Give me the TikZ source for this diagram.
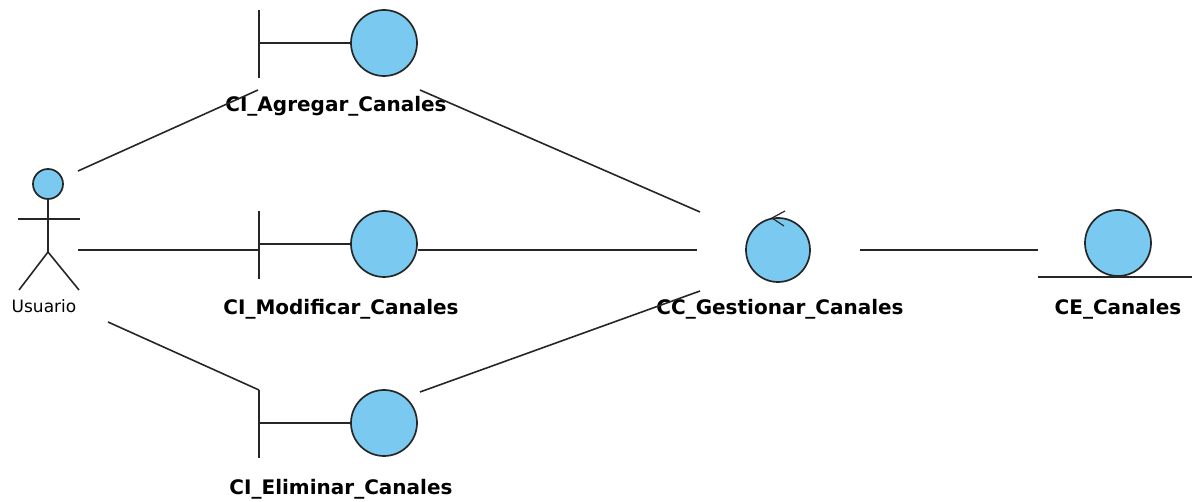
\documentclass[tikz,border=0pt]{standalone}
\usepackage{fontspec}
\setmainfont{DejaVu Sans}
\definecolor{vpblue}{RGB}{122,201,240}
\tikzset{ball/.style={circle, draw=black!85, fill=vpblue, line width=1.7pt, inner sep=0pt, outer sep=0pt, minimum size=#1},
%default size of an interface circle
ball/.default={66pt},
lbl/.style={font=\fontsize{20}{24}\selectfont\bfseries, inner sep=0pt, anchor=base},
link/.style={draw=black!85, line width=1.6pt}}

\begin{document}
\begin{tikzpicture}[x=1pt, y=-1pt]
    \useasboundingbox (0,0) rectangle (1192,502);

    % actor
    \node[ball=30pt] (usr) at (48,184) {};
    \draw[link] (usr.south) -- ++(0,53) coordinate (hip) -- ++(-29,38);
    \draw[link] (hip) -- ++(31,38);
    \draw[link] ([shift={(-30,35)}]usr.center) -- ++(62,0);
    \node[font=\fontsize{17}{20}\selectfont, inner sep=0pt, anchor=base] (usr-l) at (44,313) {Usuario};

    % interfaces
    \foreach \n/\y/\ly/\lx/\t in {agr/43/112/336/CI\_Agregar\_Canales,
                                  mod/244/315/341/CI\_Modificar\_Canales,
                                  eli/423/495/341/CI\_Eliminar\_Canales}{
        \node[ball] (\n) at (384,\y) {};
        \draw[link] (\n.west) -- ++(-92,0) ++(0,-33) -- ++(0,68);
        \node[lbl] (\n-l) at (\lx,\ly) {\t};
    }

    % control
    \node[ball=64pt] (ges) at (778,250) {};
    \draw[link, line width=1.2pt] ([shift={(7,-39)}]ges.center) -- ([shift={(-6,-32)}]ges.center) -- ([shift={(6,-24)}]ges.center);
    \node[lbl] (ges-l) at (780,315) {CC\_Gestionar\_Canales};

    % entity
    \node[ball] (can) at (1118,243) {};
    \draw[link] ([shift={(-80,34)}]can.center) -- ++(154,0);
    \node[lbl] (can-l) at (1118,315) {CE\_Canales};

    % links
    \draw[link] ([shift={(30,-13)}]usr.center) -- ([shift={(-126,47)}]agr.center);
    \draw[link] ([shift={(30,66)}]usr.center) -- ([shift={(-125,6)}]mod.center);
    \draw[link] ([shift={(60,138)}]usr.center) -- ([shift={(-125,-33)}]eli.center);
    \draw[link] ([shift={(36,47)}]agr.center) -- ([shift={(-78,-38)}]ges.center);
    \draw[link] ([shift={(34,6)}]mod.center) -- ([shift={(-81,0)}]ges.center);
    \draw[link] ([shift={(36,-31)}]eli.center) -- ([shift={(-78,41)}]ges.center);
    \draw[link] ([shift={(82,0)}]ges.center) -- ([shift={(-80,7)}]can.center);

\end{tikzpicture}
\end{document}
